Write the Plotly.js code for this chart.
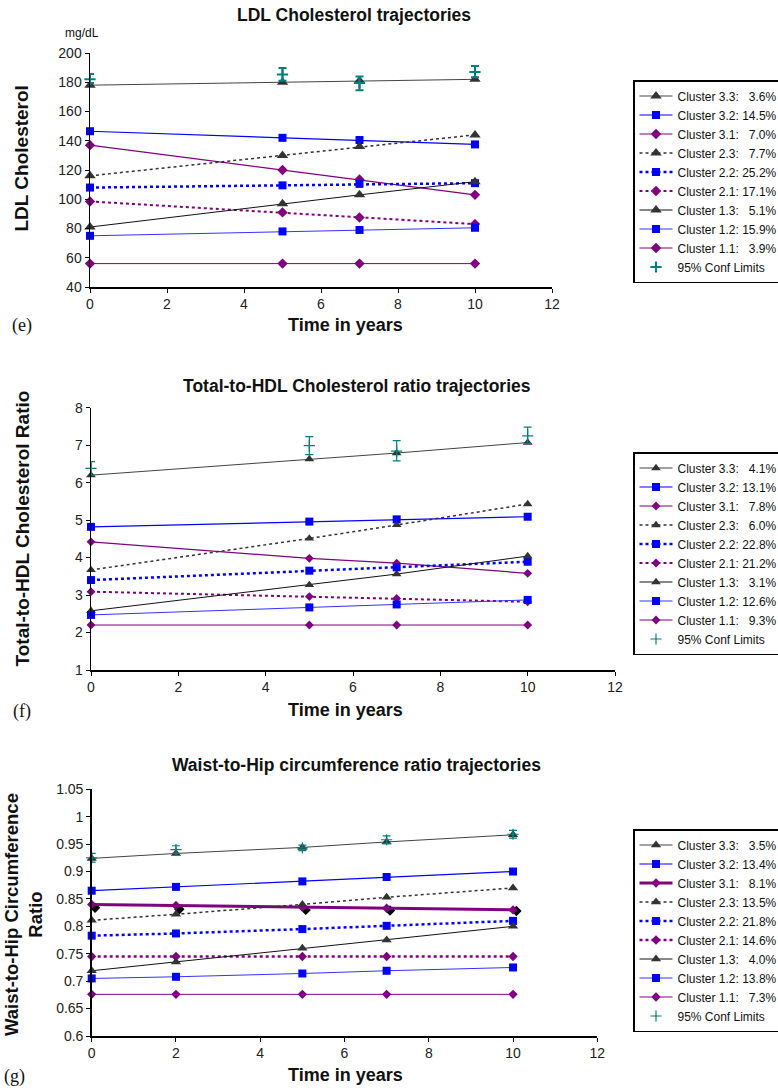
<!DOCTYPE html>
<html>
<head>
<meta charset="utf-8">
<script src="https://cdn.plot.ly/plotly-3.0.1.min.js"></script>
<style>html,body{margin:0;padding:0;background:#fff;}#chart{width:778px;height:1088px;}</style>
</head>
<body>
<div id="chart"></div>
<script>
// ---------- DATA ----------
const clusterNames = ['Cluster 3.3', 'Cluster 3.2', 'Cluster 3.1', 'Cluster 2.3', 'Cluster 2.2', 'Cluster 2.1', 'Cluster 1.3', 'Cluster 1.2', 'Cluster 1.1'];
const ciName = '95% Conf Limits';

// (e) LDL Cholesterol
const timeE = [0, 5, 7, 10];
const pctE = ['3.6%', '14.5%', '7.0%', '7.7%', '25.2%', '17.1%', '5.1%', '15.9%', '3.9%'];
const ldlC33 = [178, 180, 181, 182];
const ldlC32 = [146.5, 142, 140.5, 137.5];
const ldlC31 = [137, 120, 113.5, 103];
const ldlC23 = [116, 130, 136, 144];
const ldlC22 = [108, 109.5, 110.5, 111];
const ldlC21 = [98.5, 91, 87.5, 83];
const ldlC13 = [81, 97, 103, 112];
const ldlC12 = [75, 78, 79, 80.5];
const ldlC11 = [56, 56, 56, 56];
const ldlCiMid = [182, 185.3, 179.5, 187];
const ldlCiLow = [179.5, 181, 174.5, 183.4];
const ldlCiHigh = [185.6, 189.7, 184, 191.1];
const ldlTicksY = [40, 60, 80, 100, 120, 140, 160, 180, 200];

// (f) Total-to-HDL Cholesterol ratio
const timeF = [0, 5, 7, 10];
const pctF = ['4.1%', '13.1%', '7.8%', '6.0%', '22.8%', '21.2%', '3.1%', '12.6%', '9.3%'];
const tcC33 = [6.2, 6.63, 6.79, 7.07];
const tcC32 = [4.82, 4.96, 5.02, 5.09];
const tcC31 = [4.42, 3.98, 3.85, 3.58];
const tcC23 = [3.67, 4.51, 4.87, 5.43];
const tcC22 = [3.4, 3.65, 3.74, 3.89];
const tcC21 = [3.09, 2.96, 2.91, 2.82];
const tcC13 = [2.58, 3.27, 3.56, 4.04];
const tcC12 = [2.47, 2.67, 2.75, 2.87];
const tcC11 = [2.2, 2.2, 2.2, 2.2];
const tcCiMid = [6.38, 6.99, 6.84, 7.25];
const tcCiLow = [6.2, 6.75, 6.58, 7.05];
const tcCiHigh = [6.56, 7.23, 7.12, 7.48];
const tcTicksY = [1, 2, 3, 4, 5, 6, 7, 8];

// (g) Waist-to-Hip ratio
const timeG = [0, 2, 5, 7, 10];
const pctG = ['3.5%', '13.4%', '8.1%', '13.5%', '21.8%', '14.6%', '4.0%', '13.8%', '7.3%'];
const whC33 = [0.924, 0.933, 0.944, 0.954, 0.967];
const whC32 = [0.865, 0.872, 0.882, 0.890, 0.900];
const whC31 = [0.840, 0.838, 0.835, 0.833, 0.830];
const whC23 = [0.811, 0.822, 0.840, 0.853, 0.870];
const whC22 = [0.783, 0.787, 0.795, 0.801, 0.810];
const whC21 = [0.745, 0.745, 0.745, 0.745, 0.745];
const whC13 = [0.719, 0.735, 0.760, 0.775, 0.800];
const whC12 = [0.705, 0.708, 0.714, 0.719, 0.725];
const whC11 = [0.676, 0.676, 0.676, 0.676, 0.676];
const whCiMid = [0.925, 0.940, 0.943, 0.958, 0.968];
const whCiLow = [0.917, 0.933, 0.938, 0.951, 0.961];
const whCiHigh = [0.933, 0.947, 0.948, 0.965, 0.975];
const whExtraX = [0.08, 2.08, 5.08, 7.08, 10.08];
const whExtraY = [0.834, 0.831, 0.830, 0.829, 0.828];
const whTicksY = [0.6, 0.65, 0.7, 0.75, 0.8, 0.85, 0.9, 0.95, 1, 1.05];
const whTickText = ['0.6', '0.65', '0.7', '0.75', '0.8', '0.85', '0.9', '0.95', '1', '1.05'];

const xTicks = [0, 2, 4, 6, 8, 10, 12];

// ---------- STYLES ----------
const FONT = 'Liberation Sans, Arial, sans-serif';
const GRAY = '#333333', BLUE = '#0000ff', PURPLE = '#800080', TEAL = '#008080';
const styles = [
  {sym: 'triangle-up', mc: GRAY, lc: '#444444', w: 1, dash: 'solid', ms: 10},
  {sym: 'square', mc: BLUE, lc: BLUE, w: 1.2, dash: 'solid', ms: 8},
  {sym: 'diamond', mc: PURPLE, lc: PURPLE, w: 1.2, dash: 'solid', ms: 8},
  {sym: 'triangle-up', mc: GRAY, lc: GRAY, w: 1.5, dash: 'dot', ms: 10},
  {sym: 'square', mc: BLUE, lc: BLUE, w: 2.5, dash: 'dot', ms: 8},
  {sym: 'diamond', mc: PURPLE, lc: PURPLE, w: 2, dash: 'dot', ms: 8},
  {sym: 'triangle-up', mc: GRAY, lc: '#111111', w: 1, dash: 'solid', ms: 10},
  {sym: 'square', mc: BLUE, lc: '#3333ff', w: 1, dash: 'solid', ms: 8},
  {sym: 'diamond', mc: PURPLE, lc: PURPLE, w: 1, dash: 'solid', ms: 8}
];

const nb = '\u00a0';
function label(name, pct) {
  const pad = pct.length < 5 ? nb + nb + nb : nb;
  return name + ':' + pad + pct;
}

const traces = [];
function addPanel(xs, series, pcts, ciMid, ciLow, ciHigh, xa, ya, leg, opts) {
  series.forEach((ys, i) => {
    const s = styles[i];
    const w = (opts.widths && opts.widths[i]) ? opts.widths[i] : s.w;
    traces.push({
      type: 'scatter', mode: 'lines+markers', x: xs, y: ys,
      name: label(clusterNames[i], pcts[i]),
      xaxis: xa, yaxis: ya, legend: leg, cliponaxis: false,
      line: {color: s.lc, width: w, dash: s.dash},
      marker: {symbol: s.sym, color: s.mc, size: opts.msScale ? s.ms * opts.msScale[i] : s.ms, line: {width: 0}}
    });
  });
  traces.push({
    type: 'scatter', mode: 'markers', x: xs, y: ciMid, name: ciName,
    xaxis: xa, yaxis: ya, legend: leg, cliponaxis: false,
    marker: {symbol: 'cross-thin-open', size: 8, color: TEAL, line: {color: TEAL, width: opts.ciW}},
    error_y: {type: 'data', symmetric: false,
      array: ciHigh.map((h, k) => h - ciMid[k]),
      arrayminus: ciMid.map((m, k) => m - ciLow[k]),
      color: TEAL, thickness: opts.ciW, width: 4}
  });
}

addPanel(timeE, [ldlC33, ldlC32, ldlC31, ldlC23, ldlC22, ldlC21, ldlC13, ldlC12, ldlC11], pctE,
  ldlCiMid, ldlCiLow, ldlCiHigh, 'x', 'y', 'legend', {ciW: 2});
addPanel(timeF, [tcC33, tcC32, tcC31, tcC23, tcC22, tcC21, tcC13, tcC12, tcC11], pctF,
  tcCiMid, tcCiLow, tcCiHigh, 'x2', 'y2', 'legend2', {ciW: 1.2, msScale: [0.85,1,0.85,0.85,1,0.85,0.85,1,0.85]});
// extra unlabelled series (black diamonds) in panel (g)
traces.push({
  type: 'scatter', mode: 'markers', x: whExtraX, y: whExtraY, showlegend: false,
  xaxis: 'x3', yaxis: 'y3', cliponaxis: false,
  marker: {symbol: 'diamond', color: '#000000', size: 8}
});
addPanel(timeG, [whC33, whC32, whC31, whC23, whC22, whC21, whC13, whC12, whC11], pctG,
  whCiMid, whCiLow, whCiHigh, 'x3', 'y3', 'legend3',
  {ciW: 1.2, widths: [1, 1.2, 3, 1.5, 2.5, 2.5, 1, 1, 1], msScale: [0.9,1,0.9,0.9,1,0.9,0.9,1,0.9]});

// ---------- LAYOUT ----------
const W = 778, H = 1088;
const fx = p => p / W;
const fy = p => 1 - p / H;

function xAxis(dom, anchor) {
  return {domain: [fx(dom[0]), fx(dom[1])], anchor: anchor, range: [0, 12],
    tickvals: xTicks, ticktext: xTicks.map(String),
    showline: true, linecolor: '#000', linewidth: 1.5, ticks: 'outside', ticklen: 4, tickcolor: '#000',
    showgrid: false, zeroline: false, tickfont: {family: FONT, size: 14, color: '#222'}, fixedrange: true};
}
function yAxis(dom, anchor, range, tv, tt) {
  return {domain: [fy(dom[1]), fy(dom[0])], anchor: anchor, range: range,
    tickvals: tv, ticktext: tt || tv.map(String),
    showline: true, linecolor: '#000', linewidth: 1.5, ticks: 'outside', ticklen: 4, tickcolor: '#000',
    showgrid: false, zeroline: false, tickfont: {family: FONT, size: 14, color: '#222'}, fixedrange: true};
}
function legendAt(top) {
  return {x: fx(633), y: fy(top), xanchor: 'left', yanchor: 'top', bgcolor: '#fff',
    bordercolor: '#000', borderwidth: 1.5, font: {family: FONT, size: 12, color: '#111'},
    itemwidth: 33, tracegroupgap: 0, traceorder: 'normal'};
}
function ann(text, x, y, size, opts) {
  return Object.assign({text: text, x: fx(x), y: fy(y), xref: 'paper', yref: 'paper',
    xanchor: 'center', yanchor: 'middle', showarrow: false,
    font: {family: FONT, size: size, color: '#111'}}, opts || {});
}
const bold = (size) => ({font: {family: FONT, size: size, color: '#111', weight: 'bold'}});
const serif = {font: {family: 'Liberation Serif, Times New Roman, serif', size: 18, color: '#111'}};

const layout = {
  width: W, height: H, paper_bgcolor: '#fff', plot_bgcolor: 'rgba(0,0,0,0)',
  margin: {l: 0, r: 0, t: 0, b: 0, autoexpand: false},
  showlegend: true,
  xaxis: xAxis([90, 552], 'y'),
  yaxis: yAxis([53, 287], 'x', [40, 200], ldlTicksY),
  xaxis2: xAxis([91, 615], 'y2'),
  yaxis2: yAxis([407.7, 670], 'x2', [1, 8], tcTicksY),
  xaxis3: xAxis([91.7, 597.3], 'y3'),
  yaxis3: yAxis([789.3, 1036], 'x3', [0.6, 1.05], whTicksY, whTickText),
  legend: legendAt(80),
  legend2: legendAt(452),
  legend3: legendAt(829),
  annotations: [
    ann('LDL Cholesterol trajectories', 354, 15, 17.5, bold(17.5)),
    ann('mg/dL', 82, 33, 12),
    ann('LDL Cholesterol', 21.5, 159, 19, Object.assign({textangle: -90}, bold(19))),
    ann('Time in years', 345, 325, 18, bold(18)),
    ann('(e)', 22, 325, 18, serif),

    ann('Total-to-HDL Cholesterol ratio trajectories', 357, 386, 17.5, bold(17.5)),
    ann('Total-to-HDL Cholesterol Ratio', 21.5, 529, 19, Object.assign({textangle: -90}, bold(19))),
    ann('Time in years', 345, 710, 18, bold(18)),
    ann('(f)', 22, 711, 18, serif),

    ann('Waist-to-Hip circumference ratio trajectories', 356, 765, 17.5, bold(17.5)),
    ann('Waist-to-Hip Circumference<br>Ratio', 23, 915, 18.5, Object.assign({textangle: -90}, bold(18.5))),
    ann('Time in years', 345, 1075, 18, bold(18)),
    ann('(g)', 14, 1076, 18, serif)
  ]
};

Plotly.newPlot('chart', traces, layout, {displayModeBar: false, staticPlot: true});
</script>
</body>
</html>
